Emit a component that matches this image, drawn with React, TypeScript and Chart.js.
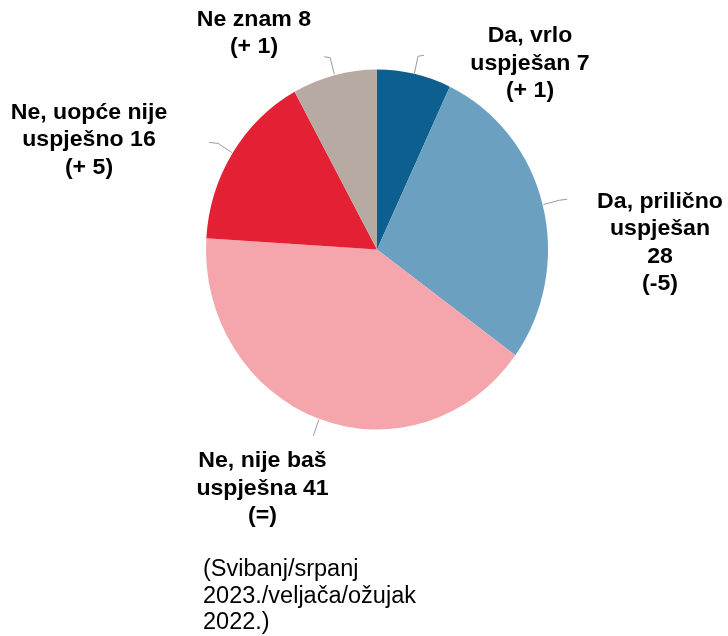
import React, { useEffect, useRef } from "react";
import { Chart, registerables } from "chart.js";

Chart.register(...registerables);

// ---- data ----
const categories = [
  "Da, vrlo uspješan",
  "Da, prilično uspješan",
  "Ne, nije baš uspješna",
  "Ne, uopće nije uspješno",
  "Ne znam",
];
const values = [7, 28, 41, 16, 8];
const changes = ["(+ 1)", "(-5)", "(=)", "(+ 5)", "(+ 1)"];
const labelLines = [
  ["Da, vrlo", "uspješan 7", "(+ 1)"],
  ["Da, prilično", "uspješan", "28", "(-5)"],
  ["Ne, nije baš", "uspješna 41", "(=)"],
  ["Ne, uopće nije", "uspješno 16", "(+ 5)"],
  ["Ne znam 8", "(+ 1)"],
];
const colors = ["#0d5f8f", "#6ca0c0", "#f4a6ac", "#e32034", "#b7aaa3"];
const footnoteLines = ["(Svibanj/srpanj", "2023./veljača/ožujak", "2022.)"];

// ---- layout (styles / positions, not data) ----
const X_SQUEEZE = 0.95;
const labelOffsets = [
  { dx: 153, dy: -213.5 },
  { dx: 283, dy: -48 },
  { dx: -114.5, dy: 211.5 },
  { dx: -288, dy: -137 },
  { dx: -123, dy: -230 },
];
const leaderTails = [6, 8, 0, -9, -6];

const piePlugin = {
  id: "pieDecor",
  beforeDatasetsDraw(chart: any) {
    const meta = chart.getDatasetMeta(0);
    const arc = meta.data[0];
    const { ctx } = chart;
    ctx.save();
    ctx.translate(arc.x, arc.y);
    ctx.scale(X_SQUEEZE, 1);
    ctx.translate(-arc.x, -arc.y);
  },
  afterDatasetsDraw(chart: any) {
    chart.ctx.restore();
  },
  afterDraw(chart: any) {
    const { ctx } = chart;
    const meta = chart.getDatasetMeta(0);
    meta.data.forEach((el: any, i: number) => {
      const cx = el.x;
      const cy = el.y;
      const r = el.outerRadius;
      const mid = (el.startAngle + el.endAngle) / 2;
      const x1 = cx + X_SQUEEZE * r * 1.005 * Math.cos(mid);
      const y1 = cy + r * 1.005 * Math.sin(mid);
      const x2 = cx + X_SQUEEZE * r * 1.1 * Math.cos(mid);
      const y2 = cy + r * 1.1 * Math.sin(mid);
      ctx.save();
      ctx.strokeStyle = "#9a9a9a";
      ctx.lineWidth = 1;
      ctx.beginPath();
      ctx.moveTo(x1, y1);
      ctx.lineTo(x2, y2);
      if (leaderTails[i]) ctx.lineTo(x2 + leaderTails[i], y2 - 1);
      ctx.stroke();
      ctx.restore();

      // label
      const off = labelOffsets[i];
      const lx = cx + off.dx;
      const ly = cy + off.dy;
      ctx.save();
      ctx.fillStyle = "#000";
      ctx.font = "bold 22px 'Liberation Sans', Arial, sans-serif";
      ctx.textAlign = "center";
      ctx.textBaseline = "middle";
      labelLines[i].forEach((t, k) => {
        ctx.save();
        ctx.translate(lx, ly + k * 27.6);
        ctx.scale(1.05, 1);
        ctx.fillText(t, 0, 0);
        ctx.restore();
      });
      ctx.restore();
    });

    // footnote
    ctx.save();
    ctx.fillStyle = "#000";
    ctx.font = "23.5px 'Liberation Sans', Arial, sans-serif";
    ctx.textAlign = "left";
    ctx.textBaseline = "middle";
    footnoteLines.forEach((t, k) => {
      ctx.fillText(t, 203, 570 + k * 26.2);
    });
    ctx.restore();
  },
};

export default function App() {
  const ref = useRef<HTMLCanvasElement>(null);
  useEffect(() => {
    document.body.style.margin = "0";
    const canvas = ref.current;
    if (!canvas) return;
    const chart = new Chart(canvas, {
      type: "pie",
      data: {
        labels: categories,
        datasets: [
          {
            data: values,
            backgroundColor: colors,
            borderWidth: 0,
          },
        ],
      },
      options: {
        responsive: false,
        animation: false,
        devicePixelRatio: 1,
        layout: {
          padding: { top: 69.5, bottom: 206.5, left: 177, right: 151 },
        },
        plugins: {
          legend: { display: false },
          tooltip: { enabled: false },
        },
      },
      plugins: [piePlugin],
    });
    return () => chart.destroy();
  }, []);
  return (
    <div style={{ width: 728, height: 636, background: "#fff" }}>
      <canvas ref={ref} width={728} height={636} style={{ width: 728, height: 636, display: "block" }} />
    </div>
  );
}
